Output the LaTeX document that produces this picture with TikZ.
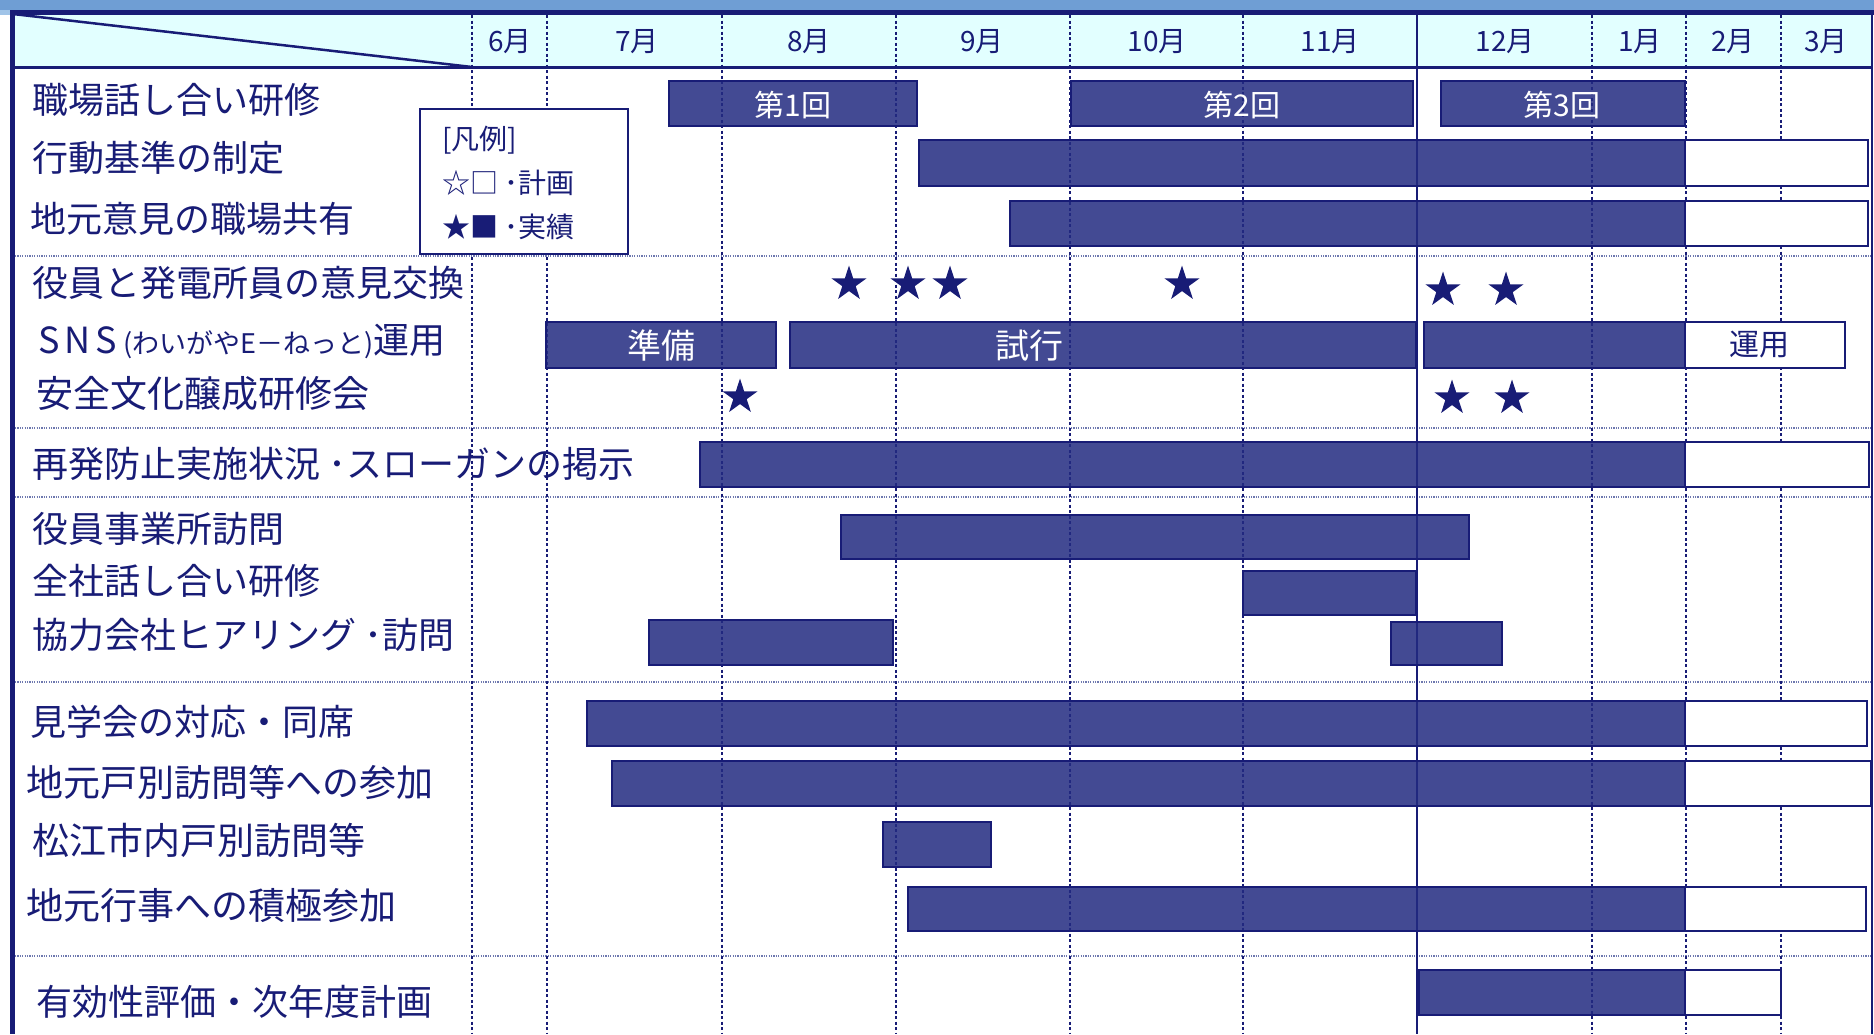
\documentclass[tikz,border=0pt]{standalone}
\usepackage{fontspec}
\setmainfont{Noto Sans CJK JP}
\usetikzlibrary{shapes.geometric}
\definecolor{navy}{RGB}{24,28,118}
\definecolor{barbase}{RGB}{35,43,129}
\definecolor{hdrbg}{RGB}{226,255,255}
\definecolor{topband}{RGB}{111,158,212}
\definecolor{topstrip}{RGB}{160,196,232}
\definecolor{sepcol}{RGB}{110,120,175}
\begin{document}
\begin{tikzpicture}[x=1pt,y=-1pt,
  done/.style={draw=navy,line width=2.5pt,fill=barbase,fill opacity=0.85},
  todo/.style={draw=navy,line width=2.5pt,fill=white},
  vline/.style={navy,line width=2.2pt,dash pattern=on 3pt off 2.5pt},
  sepline/.style={sepcol,line width=1.2pt,dash pattern=on 1.2pt off 1.2pt},
  lbl/.style={anchor=west,text=navy,font=\fontsize{36}{40}\selectfont,inner sep=0pt},
  lblw/.style={lbl,font=\fontsize{37}{40}\selectfont},
  mon/.style={text=navy,font=\fontsize{28}{32}\selectfont,inner sep=0pt},
  intext/.style={text=white,font=\fontsize{30}{34}\selectfont,inner sep=0pt},
  legtext/.style={anchor=west,text=navy,font=\fontsize{28}{32}\selectfont,inner sep=0pt},
  starmark/.style={star,star points=5,star point ratio=2.618,fill=navy,inner sep=0pt,minimum size=37pt}
]
\useasboundingbox (0,0) rectangle (1874,1034);
\fill[white] (0,0) rectangle (1874,1034);
% top band
\fill[topband] (0,0) rectangle (1874,10);
\fill[topstrip] (0,10) rectangle (10,15);
% header background
\fill[hdrbg] (15,15) rectangle (1872,66);
% diagonal
\draw[navy,line width=2.5pt] (13,14) -- (472,67);
% row separators
\foreach \yy in {256,428,497,682,956}
  \draw[sepline] (15,\yy) -- (1872,\yy);
% vertical month lines
\foreach \xx in {472,547,722,896,1070,1243,1592,1686,1781}
  \draw[vline] (\xx,15) -- (\xx,1034);
\draw[navy,line width=2pt] (1417,15) -- (1417,1034);
% month labels
\node[mon] (m6) at (510,42) {6月};
\node[mon] (m7) at (637,42) {7月};
\node[mon] (m8) at (809,42) {8月};
\node[mon] (m9) at (982,42) {9月};
\node[mon] (m10) at (1157,42) {10月};
\node[mon] (m11) at (1330,42) {11月};
\node[mon] (m12) at (1505,42) {12月};
\node[mon] (m1) at (1640,42) {1月};
\node[mon] (m2) at (1733,42) {2月};
\node[mon] (m3) at (1826,42) {3月};
% bars: actual
\foreach \ya/\yb/\xa/\xb in {
  81/126/669/917, 81/126/1071/1413, 81/126/1441/1685,
  140/186/919/1685,
  201/246/1010/1685,
  322/368/546/776, 322/368/790/1416, 322/368/1424/1685,
  442/487/700/1685,
  515/559/841/1469,
  571/615/1243/1416,
  620/665/649/893, 622/665/1391/1502,
  701/746/587/1685,
  761/806/612/1685,
  822/867/883/991,
  887/931/908/1685,
  970/1015/1419/1685}
  \draw[done] (\xa,\ya) rectangle (\xb,\yb);
% bars: planned
\foreach \ya/\yb/\xa/\xb in {
  140/186/1685/1868,
  201/246/1685/1868,
  322/368/1685/1845,
  442/487/1685/1869,
  701/746/1685/1867,
  761/806/1685/1871,
  887/931/1685/1866,
  970/1015/1685/1781}
  \draw[todo] (\xa,\ya) rectangle (\xb,\yb);
% texts in bars
\node[intext] (t1) at (793,105) {第1回};
\node[intext] (t2) at (1242,105) {第2回};
\node[intext] (t3) at (1562,105) {第3回};
\node[intext,font=\fontsize{34}{38}\selectfont] (tj) at (661,346) {準備};
\node[intext,font=\fontsize{34}{38}\selectfont] (ts) at (1029,346) {試行};
\node[intext,text=navy] (tu) at (1759,345) {運用};
% stars
\node[starmark] (s1) at (849,284) {};
\node[starmark] (s2) at (908,284) {};
\node[starmark] (s3) at (950,284) {};
\node[starmark] (s4) at (1182,284) {};
\node[starmark] (s5) at (1443,290) {};
\node[starmark] (s6) at (1506,290) {};
\node[starmark] (s7) at (740,397) {};
\node[starmark] (s8) at (1452,398) {};
\node[starmark] (s9) at (1512,398) {};
% legend
\node[draw=navy,fill=white,line width=2pt,anchor=north west,minimum width=208pt,minimum height=145pt,inner sep=0pt] (legend) at (419,108) {};
\node[legtext] (lg1) at (442,140) {[凡例]};
\node[legtext] (lg2) at (442,183) {☆□ ･計画};
\node[legtext] (lg3) at (442,227) {★■ ･実績};
% row labels
\node[lbl] (l1) at (32,100) {職場話し合い研修};
\node[lbl] (l2) at (32,158) {行動基準の制定};
\node[lbl] (l3) at (30,219) {地元意見の職場共有};
\node[lbl] (l4) at (32,283) {役員と発電所員の意見交換};
\node[lbl] (l5) at (38,341) {S\kern5pt N\kern5pt S\kern6pt{\fontsize{27}{30}\selectfont (わいがやE－ねっと)}運用};
\node[lblw] (l6) at (36,394) {安全文化醸成研修会};
\node[lbl] (l7) at (32,464) {再発防止実施状況 ･スローガンの掲示};
\node[lbl] (l8) at (32,529) {役員事業所訪問};
\node[lbl] (l9) at (32,581) {全社話し合い研修};
\node[lbl] (l10) at (32,635) {協力会社ヒアリング ･訪問};
\node[lbl] (l11) at (30,722) {見学会の対応・同席};
\node[lblw] (l12) at (26,782) {地元戸別訪問等への参加};
\node[lblw] (l13) at (32,840) {松江市内戸別訪問等};
\node[lblw] (l14) at (26,906) {地元行事への積極参加};
\node[lbl] (l15) at (36,1002) {有効性評価・次年度計画};
% frame
\draw[navy,line width=3pt] (12,67) -- (1872,67);
\draw[navy,line width=2pt] (1872,12) -- (1872,1034);
\draw[navy,line width=5pt] (10,12.5) -- (1874,12.5);
\draw[navy,line width=5pt] (12.5,10) -- (12.5,1034);
\end{tikzpicture}
\end{document}
